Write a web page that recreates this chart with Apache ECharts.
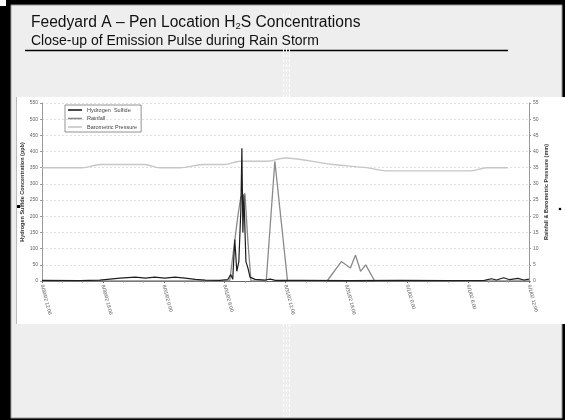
<!DOCTYPE html>
<html>
<head>
<meta charset="utf-8">
<script src="https://cdn.jsdelivr.net/npm/echarts@6/dist/echarts.min.js"></script>
<style>
html,body{margin:0;padding:0;background:#000;}
#c{width:565px;height:420px;}
</style>
</head>
<body>
<div id="c"></div>
<script>
// ---- data (x in hours from start of window) ----
var xTickLabels = ['8/30/02 12:00','8/30/02 18:00','8/31/02 0:00','8/31/02 6:00','8/31/02 12:00','8/31/02 18:00','9/1/02 0:00','9/1/02 6:00','9/1/02 12:00'];

var h2sHours  = [0, 3.7, 5.7, 6.7, 7.7, 9.2, 10.2, 11.1, 12.1, 13.1, 14.1, 15.1, 16.1, 17.5, 18.3, 18.6, 18.8, 19.0, 19.2, 19.4, 19.6, 19.7, 19.8, 19.9, 20.1, 20.3, 20.5, 21.0, 22.0, 22.5, 23.0, 25.4, 30.3, 35.3, 40.2, 43.6, 44.3, 44.8, 45.5, 46.1, 46.9, 47.5, 48];
var h2sValues = [2, 1, 3, 6, 9, 12, 9, 12, 9, 12, 9, 5, 3, 2, 4, 20, 5, 128, 30, 60, 220, 410, 150, 265, 60, 40, 12, 5, 3, 6, 2, 2, 1, 2, 1, 2, 7, 3, 10, 4, 8, 3, 6];

var rainHours  = [0, 18.5, 19.3, 19.6, 20.0, 20.3, 20.6, 22.1, 22.95, 24.2, 28.1, 29.5, 30.4, 30.9, 31.4, 31.9, 32.8, 48];
var rainValues = [0, 0, 20, 26, 27, 12, 0, 0, 37, 0, 0, 6, 4, 8, 3, 5, 0, 0];

var presHours  = [0, 4.0, 5.7, 10.1, 11.6, 13.6, 15.9, 18.0, 19.5, 22.2, 23.9, 28.7, 32.0, 34.0, 42.2, 43.8, 45.9];
var presValues = [35, 35, 36, 36, 35, 35, 36, 36, 37, 37, 38, 36, 35, 34, 34, 35, 35];

function zip(a, b){ return a.map(function(v,i){ return [v, b[i]]; }); }

var chart = echarts.init(document.getElementById('c'), null, {renderer:'canvas'});
var F = 'Liberation Sans, Arial, sans-serif';

function dashCol(x){
  return [
    {type:'line', shape:{x1:x,y1:14,x2:x,y2:97}, style:{stroke:'#fff', lineWidth:1, lineDash:[3,2]}, z:1},
    {type:'line', shape:{x1:x,y1:324,x2:x,y2:418}, style:{stroke:'#fff', lineWidth:1, lineDash:[3,2]}, z:1}
  ];
}

var graphics = [
  {type:'rect', shape:{x:0,y:0,width:565,height:420}, style:{fill:'#000'}, z:0, silent:true},
  {type:'rect', shape:{x:11,y:5,width:551,height:413}, style:{fill:'#eeeeee', stroke:'#9a9a9a', lineWidth:1}, z:0, silent:true},
  {type:'rect', shape:{x:0,y:0,width:6,height:6}, style:{fill:'#fff'}, z:0, silent:true},
  {type:'rect', shape:{x:16,y:97,width:549,height:227}, style:{fill:'#fff'}, z:0, silent:true},
  {type:'line', shape:{x1:16.5,y1:97,x2:16.5,y2:324}, style:{stroke:'#bbb', lineWidth:1}, z:1},
  {type:'line', shape:{x1:25,y1:50.5,x2:508,y2:50.5}, style:{stroke:'#000', lineWidth:1.5}, z:1},
  {type:'rect', shape:{x:17,y:205,width:3,height:3}, style:{fill:'#000'}, z:2},
  {type:'circle', shape:{cx:560,cy:209,r:1.3}, style:{fill:'#000'}, z:2}
].concat(dashCol(283.5), dashCol(286.5), dashCol(289.5));

chart.setOption({
  animation:false,
  backgroundColor:'transparent',
  textStyle:{fontFamily:F},
  graphic: graphics,
  title:[
    {text:'Feedyard A – Pen Location H{sub|2}S Concentrations', left:31, top:15, padding:0,
     textStyle:{fontFamily:F, fontSize:15.6, fontWeight:'normal', color:'#111',
       rich:{sub:{fontFamily:F, fontSize:9.5, color:'#111', verticalAlign:'bottom', padding:[6,0,0,0]}}}},
    {text:'Close-up of Emission Pulse during Rain Storm', left:31, top:34, padding:0,
     textStyle:{fontFamily:F, fontSize:14, fontWeight:'normal', color:'#111'}}
  ],
  legend:{
    orient:'vertical', left:65, top:105, itemGap:2.5, itemWidth:14, itemHeight:1.6, icon:'rect',
    borderColor:'#777', borderWidth:0.8, padding:[2,4,2,3],
    textStyle:{fontSize:5.5, color:'#444', fontFamily:F},
    data:['Hydrogen  Sulfide','Rainfall','Barometric Pressure']
  },
  grid:{left:42, right:36, top:103, bottom:139},
  xAxis:{
    type:'value', min:0, max:48, interval:6,
    axisLine:{lineStyle:{color:'#666', width:1}},
    axisTick:{show:true, length:2, lineStyle:{color:'#666'}},
    minorTick:{show:true, splitNumber:3, length:1.5, lineStyle:{color:'#888'}},
    splitLine:{show:false},
    axisLabel:{rotate:-75, fontSize:5, color:'#555', margin:4, fontFamily:F,
      formatter:function(v){ return xTickLabels[Math.round(v/6)] || ''; }}
  },
  yAxis:[
    {type:'value', min:0, max:550, interval:50,
     name:'Hydrogen Sulfide Concentration (ppb)', nameLocation:'middle', nameGap:17, nameMoveOverlap:false,
     nameTextStyle:{fontSize:5.5, fontWeight:'bold', color:'#333', fontFamily:F},
     axisLine:{show:true, lineStyle:{color:'#999'}},
     axisTick:{show:true, length:2, lineStyle:{color:'#999'}},
     axisLabel:{fontSize:5, color:'#666', margin:4, fontFamily:F},
     splitLine:{show:true, lineStyle:{color:'#dadada', type:[2,2], width:0.8}}},
    {type:'value', min:0, max:55, interval:5,
     name:'Rainfall & Barometric Pressure (mm)', nameLocation:'middle', nameGap:14, nameRotate:90, nameMoveOverlap:false,
     nameTextStyle:{fontSize:5.5, fontWeight:'bold', color:'#333', fontFamily:F},
     axisLine:{show:true, lineStyle:{color:'#999'}},
     axisTick:{show:true, length:2, lineStyle:{color:'#999'}},
     axisLabel:{fontSize:5, color:'#666', margin:4, fontFamily:F},
     splitLine:{show:false}}
  ],
  series:[
    {name:'Barometric Pressure', type:'line', yAxisIndex:1, data:zip(presHours, presValues),
     showSymbol:false, symbol:'none', smooth:0.3, lineStyle:{color:'#c6c6c6', width:1.3}, itemStyle:{color:'#c6c6c6'}, z:2},
    {name:'Rainfall', type:'line', yAxisIndex:1, data:zip(rainHours, rainValues),
     showSymbol:false, symbol:'none', lineStyle:{color:'#8a8a8a', width:1.3}, itemStyle:{color:'#8a8a8a'}, z:3},
    {name:'Hydrogen  Sulfide', type:'line', yAxisIndex:0, data:zip(h2sHours, h2sValues),
     showSymbol:false, symbol:'none', lineStyle:{color:'#1e1e1e', width:1.2}, itemStyle:{color:'#1e1e1e'}, z:4}
  ]
});
</script>
</body>
</html>
